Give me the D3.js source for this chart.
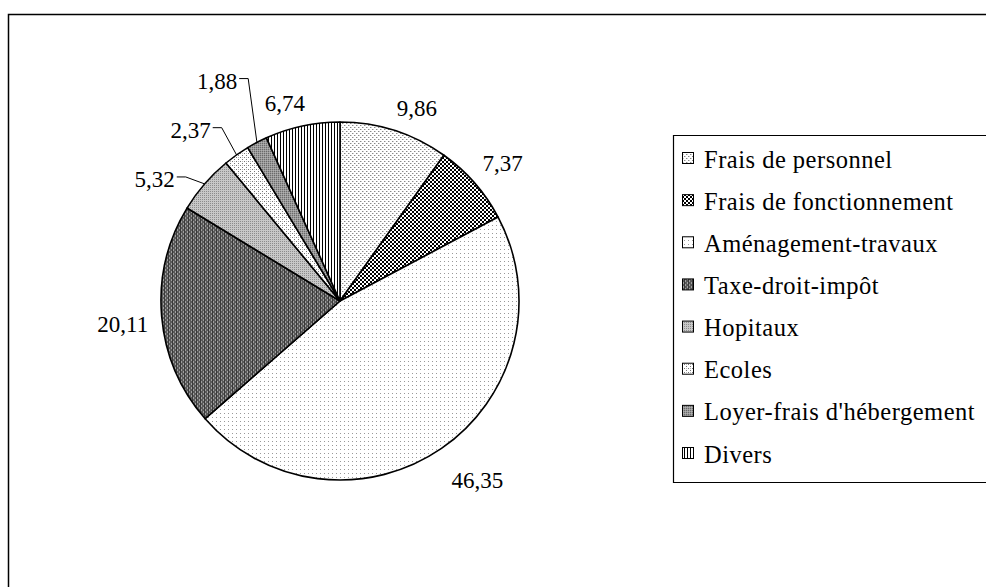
<!DOCTYPE html>
<html><head><meta charset="utf-8">
<script src="https://cdn.jsdelivr.net/npm/d3@7"></script>
<style>html,body{margin:0;padding:0;background:#fff;}svg{display:block;}</style>
</head><body>
<svg id="c" width="986" height="587"></svg>
<script>
const categories = ["Frais de personnel","Frais de fonctionnement","Aménagement-travaux","Taxe-droit-impôt","Hopitaux","Ecoles","Loyer-frais d'hébergement","Divers"];
const values = [9.86, 7.37, 46.35, 20.11, 5.32, 2.37, 1.88, 6.74];
const valueLabels = ["9,86","7,37","46,35","20,11","5,32","2,37","1,88","6,74"];

// layout for data labels (polar: angle shift in degrees, distance factor of radius, leader?)
const labelLayout = [
  {da: 4,  k: 1.16, leader: false},
  {da: 1,  k: 1.19, leader: false},
  {da: -3, k: 1.26, leader: false},
  {da: -1, k: 1.22, leader: false},
  {da: -7.5, k: 1.24, leader: true},
  {da: -5.8, k: 1.27, leader: true},
  {da: -1.5, k: 1.41, leader: true},
  {da: -3.4, k: 1.15, leader: false}
];

const svg = d3.select("#c");
const W = 986, H = 587;
const cx = 340, cy = 301, R = 179;
const FONT = "'Liberation Serif','Times New Roman',serif";

// patterns
const defs = svg.append("defs");
function pat(id, size, bg, cells) {
  const p = defs.append("pattern").attr("id", id).attr("patternUnits","userSpaceOnUse")
    .attr("width", size).attr("height", size);
  p.append("rect").attr("width", size).attr("height", size).attr("fill", bg);
  cells.forEach(c => p.append("rect").attr("x", c[0]).attr("y", c[1]).attr("width", c[2]).attr("height", c[3]).attr("fill", c[4]));
}
pat("p0", 4, "#fff", [[0,0,1,1,"#888"],[2,2,1,1,"#888"],[1,0,1,1,"#ccc"],[3,2,1,1,"#ccc"]]);
pat("p1", 4, "#000", [[0,0,2,2,"#fff"],[2,2,2,2,"#fff"]]);
pat("p2", 4, "#fff", [[0,0,1,1,"#999"]]);
pat("p3", 4, "#5a5a5a", [[1,0,1,2,"#a0a0a0"],[3,2,1,2,"#a0a0a0"],[0,0,1,4,"#3a3a3a"]]);
pat("p4", 2, "#c8c8c8", [[0,0,1,1,"#8c8c8c"]]);
pat("p5", 4, "#fff", [[0,0,1,1,"#777"],[2,2,1,1,"#777"],[2,0,1,1,"#bbb"]]);
pat("p6", 2, "#9a9a9a", [[0,0,1,1,"#6a6a6a"],[1,1,1,1,"#b0b0b0"]]);
pat("p7", 3, "#fff", [[0,0,1,3,"#000"]]);
const fills = ["url(#p0)","url(#p1)","url(#p2)","url(#p3)","url(#p4)","url(#p5)","url(#p6)","url(#p7)"];

// outer frame
svg.append("path").attr("d", `M8.5,${H+5} L8.5,14.5 L${W+5},14.5`)
  .attr("fill","none").attr("stroke","#000").attr("stroke-width",1.5);

const pie = d3.pie().sort(null).value(d => d);
const arcs = pie(values);
const arc = d3.arc().innerRadius(0).outerRadius(R);

const g = svg.append("g").attr("transform", `translate(${cx},${cy})`);
g.selectAll("path.slice").data(arcs).enter().append("path")
  .attr("class","slice")
  .attr("d", arc)
  .attr("fill", (d,i) => fills[i])
  .attr("stroke","#000").attr("stroke-width",1.6).attr("stroke-linejoin","round");

// labels
const deg = Math.PI/180;
arcs.forEach((a, i) => {
  const mid = (a.startAngle + a.endAngle)/2;
  const L = labelLayout[i];
  const ang = mid + L.da*deg;
  const lx = Math.sin(ang)*R*L.k, ly = -Math.cos(ang)*R*L.k;
  const t = g.append("text").attr("x", lx).attr("y", ly).attr("dy","0.35em")
    .attr("text-anchor","middle").attr("font-family",FONT).attr("font-size","23px")
    .attr("fill","#000").text(valueLabels[i]);
  if (L.leader) {
    const bb = t.node().getBBox();
    const x0 = bb.x + bb.width + 2, y0 = ly - 2;
    const ex = Math.sin(mid)*R, ey = -Math.cos(mid)*R;
    g.append("path").attr("d", `M${x0},${y0} L${x0+9},${y0} L${ex},${ey}`)
      .attr("fill","none").attr("stroke","#000").attr("stroke-width",1);
  }
});

// legend
const lgX = 673, lgY = 135, lgH = 347;
svg.append("path").attr("d", `M${W+5},${lgY+0.5} L${lgX+0.5},${lgY+0.5} L${lgX+0.5},${lgY+lgH+0.5} L${W+5},${lgY+lgH+0.5}`)
  .attr("fill","#fff").attr("stroke","#000").attr("stroke-width",1.2);
const rowY = d3.scalePoint().domain(categories).range([159, 454]);
const lg = svg.append("g");
categories.forEach((c, i) => {
  const y = rowY(c);
  lg.append("rect").attr("x", 682.5).attr("y", y-6.5).attr("width", 11).attr("height", 11)
    .attr("fill", fills[i]).attr("stroke","#000").attr("stroke-width",1);
  lg.append("text").attr("x", 704).attr("y", y).attr("dy","0.35em")
    .attr("font-family",FONT).attr("font-size","24.5px").attr("letter-spacing","0.5px")
    .attr("fill","#000").text(c);
});
</script>
</body></html>
